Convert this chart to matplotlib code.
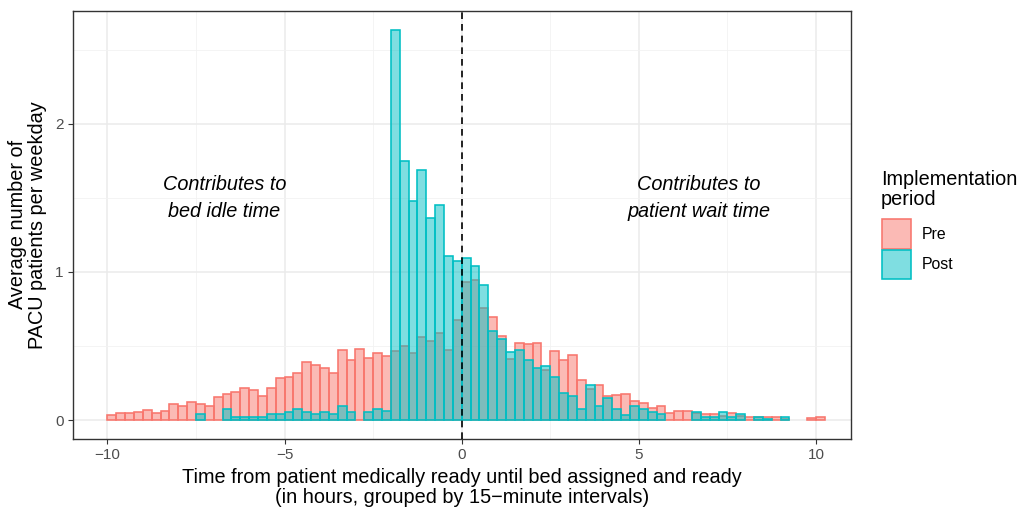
import numpy as np
import matplotlib.pyplot as plt
from matplotlib.patches import Rectangle

# bins are 15 minutes wide, left edges from -10 h to +10 h
bin_width = 0.25
bin_start = np.arange(-10, 10.001, bin_width)

# average patients per weekday (one value per bin)
pre = [0.034, 0.05, 0.05, 0.056, 0.07, 0.05, 0.063, 0.108, 0.095, 0.124,
       0.108, 0.095, 0.158, 0.178, 0.19, 0.216, 0.203, 0.162, 0.216, 0.285,
       0.292, 0.32, 0.39, 0.374, 0.351, 0.32, 0.473, 0.405, 0.48, 0.42,
       0.455, 0.43, 0.466, 0.50, 0.455, 0.56, 0.534, 0.59, 0.47, 0.676,
       0.93, 0.946, 0.755, 0.694, 0.567, 0.41, 0.52, 0.51, 0.52, 0.34,
       0.466, 0.408, 0.439, 0.27, 0.209, 0.236, 0.16, 0.169, 0.173, 0.13,
       0.112, 0.078, 0.096, 0.045, 0.063, 0.063, 0.045, 0.038, 0.038, 0.03,
       0.045, 0.03, 0.018, 0.02, 0.023, 0.018, 0.01, 0.0, 0.0, 0.011,
       0.018]
post = [0, 0, 0, 0, 0, 0, 0, 0, 0, 0,
        0.04, 0, 0, 0.076, 0.02, 0.02, 0.02, 0.02, 0.038, 0.04,
        0.056, 0.076, 0.056, 0.038, 0.056, 0.038, 0.092, 0.056, 0, 0.056,
        0.076, 0.06, 2.635, 1.745, 1.475, 1.69, 1.36, 1.45, 1.11, 1.07,
        1.09, 1.036, 0.91, 0.60, 0.55, 0.457, 0.475, 0.403, 0.349, 0.367,
        0.293, 0.184, 0.164, 0.074, 0.239, 0.092, 0.15, 0.074, 0.034, 0.092,
        0.074, 0.056, 0.038, 0, 0, 0, 0.056, 0.018, 0.018, 0.056,
        0.018, 0.043, 0, 0.023, 0.01, 0, 0.023, 0, 0, 0,
        0]
periods = ["Pre", "Post"]
colors = ["#F8766D", "#00BFC4"]

plt.rcParams['font.family'] = ['Liberation Sans', 'DejaVu Sans']

W, H = 1018, 508
fig = plt.figure(figsize=(W / 100, H / 100), dpi=100)
ax = fig.add_axes([72.7 / W, 69 / H, 778 / W, 428.3 / H])

for vals, name, col in zip([pre, post], periods, colors):
    vals = np.array(vals)
    keep = vals > 0
    ax.bar(bin_start[keep], vals[keep], width=bin_width, align='edge',
           facecolor=(col, 0.5), edgecolor=col, linewidth=1.15, zorder=3)

ax.axvline(0, color='black', linestyle=(0, (4, 3)), linewidth=1.2, zorder=4)

ax.text(-6.7, 1.5, "Contributes to\nbed idle time", ha='center', va='center',
        fontsize=14.3, style='italic', linespacing=1.53)
ax.text(6.7, 1.5, "Contributes to\npatient wait time", ha='center', va='center',
        fontsize=14.3, style='italic', linespacing=1.53)

ax.set_xlim(-10.98, 10.98)
ax.set_ylim(-0.128, 2.762)
ax.set_xticks([-10, -5, 0, 5, 10])
ax.set_xticklabels(['\u221210', '\u22125', '0', '5', '10'])
ax.set_yticks([0, 1, 2])
ax.set_xticks([-7.5, -2.5, 2.5, 7.5], minor=True)
ax.set_yticks([0.5, 1.5, 2.5], minor=True)
ax.grid(which='major', color='#EBEBEB', linewidth=1.1, zorder=0)
ax.grid(which='minor', color='#F2F2F2', linewidth=0.6, zorder=0)
ax.set_axisbelow(True)
ax.tick_params(which='major', length=3.6, width=0.8, color='#333333',
               labelcolor='#4D4D4D', labelsize=11, pad=3)
ax.tick_params(which='minor', length=0)
for s in ax.spines.values():
    s.set_color('#333333')
    s.set_linewidth(1.0)

ax.set_xlabel("Time from patient medically ready until bed assigned and ready\n"
              "(in hours, grouped by 15\u2212minute intervals)", fontsize=14.3,
              labelpad=4, linespacing=1.07)
ax.set_ylabel("Average number of\nPACU patients per weekday", fontsize=14.3,
              labelpad=6, linespacing=1.07)

# legend, laid out by hand in pixel positions like the ggplot guide
fig.text(881 / W, 1 - 170 / H, "Implementation\nperiod", fontsize=14.3,
         ha='left', va='top', linespacing=1.07)
key_top = [219.3, 249.8]
for name, col, top in zip(periods, colors, key_top):
    fig.patches.append(Rectangle((881.5 / W, 1 - (top + 29.5) / H), 29.5 / W, 29.5 / H,
                                 transform=fig.transFigure, facecolor=(col, 0.5),
                                 edgecolor=col, linewidth=1.15))
    fig.text(922 / W, 1 - (top + 15) / H, name, fontsize=11.4, ha='left', va='center')

fig.savefig("out.png", dpi=100)
